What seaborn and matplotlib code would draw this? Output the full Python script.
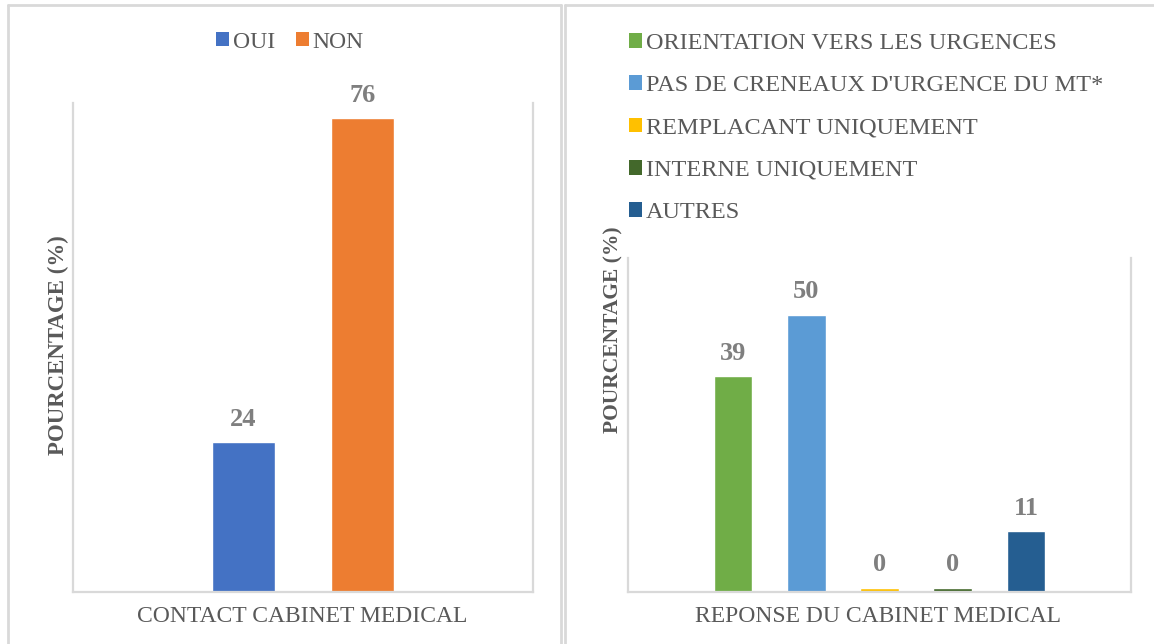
import matplotlib
matplotlib.use("Agg")
import matplotlib.pyplot as plt
import seaborn as sns
from matplotlib.patches import Patch
from matplotlib.lines import Line2D

# ---- data ----
left_categories = ["OUI", "NON"]
left_values = [24, 76]
left_labels = ["24", "76"]
left_colors = ["#4472C4", "#ED7D31"]
left_xlabel = "CONTACT CABINET MEDICAL"

right_categories = ["ORIENTATION VERS LES URGENCES",
                    "PAS DE CRENEAUX D'URGENCE DU MT*",
                    "REMPLACANT UNIQUEMENT",
                    "INTERNE UNIQUEMENT",
                    "AUTRES"]
right_values = [39, 50, 0.8, 0.8, 11]
right_labels = ["39", "50", "0", "0", "11"]
right_colors = ["#70AD47", "#5B9BD5", "#FFC000", "#43682B", "#255E91"]
right_xlabel = "REPONSE DU CABINET MEDICAL"

ylabel = "POURCENTAGE (%)"

# ---- style ----
sns.set_theme(style="white")
plt.rcParams["font.family"] = ["Liberation Serif", "DejaVu Serif"]

W, H = 1154, 644
fig = plt.figure(figsize=(W / 100, H / 100), dpi=100)

def fx(px):
    return px / W

def fy(py):
    return 1 - py / H

TXT = "#595959"
LBL = "#7F7F7F"
GRID = "#D9D9D9"

# panel frames
for x in (8, 561, 565):
    fig.add_artist(Line2D([fx(x), fx(x)], [fy(5), fy(700)],
                          transform=fig.transFigure, color=GRID, lw=2))
fig.add_artist(Line2D([fx(8), fx(561)], [fy(5), fy(5)],
                      transform=fig.transFigure, color=GRID, lw=2))
fig.add_artist(Line2D([fx(565), fx(1160)], [fy(5), fy(5)],
                      transform=fig.transFigure, color=GRID, lw=2))

# axes
axL = fig.add_axes([fx(73), fy(592), fx(533) - fx(73), fy(103) - fy(592)])
axR = fig.add_axes([fx(628), fy(592), fx(1131) - fx(628), fy(258) - fy(592)])

sns.barplot(x=left_categories, y=left_values, hue=left_categories,
            palette=left_colors, width=0.53, legend=False, ax=axL,
            saturation=1, order=left_categories, hue_order=left_categories)
sns.barplot(x=right_categories, y=right_values, hue=right_categories,
            palette=right_colors, width=0.53, legend=False, ax=axR,
            saturation=1, order=right_categories, hue_order=right_categories)

axL.set_xlim(-1.433, 2.433)
axL.set_ylim(0, 78.4)
axR.set_xlim(-1.433, 5.433)
axR.set_ylim(0, 60.2)

for ax, labels in ((axL, left_labels), (axR, right_labels)):
    for cont, lab in zip(ax.containers, labels):
        ax.bar_label(cont, labels=[lab], padding=8, fontsize=19,
                     fontweight="bold", color=LBL)
    ax.set_xticks([])
    ax.set_yticks([])
    ax.set_xlabel("")
    ax.set_ylabel("")
    ax.spines["top"].set_visible(False)
    for s in ("left", "right", "bottom"):
        ax.spines[s].set_color(GRID)
        ax.spines[s].set_linewidth(1.6)

# x labels
fig.text(fx(302), fy(617), left_xlabel, ha="center", va="center",
         fontsize=17, color=TXT)
fig.text(fx(878), fy(617), right_xlabel, ha="center", va="center",
         fontsize=17, color=TXT)

# y labels
fig.text(fx(58), fy(345), ylabel, ha="center", va="center", rotation=90,
         fontsize=16.5, fontweight="bold", color=TXT)
fig.text(fx(613), fy(330), ylabel, ha="center", va="center", rotation=90,
         fontsize=15.5, fontweight="bold", color=TXT)

# legends
hL = [Patch(facecolor=c, edgecolor="none") for c in left_colors]
fig.legend(hL, left_categories, loc="center", ncol=2,
           bbox_to_anchor=(fx(290), fy(42)), frameon=False, fontsize=17,
           handlelength=0.55, handleheight=0.55, handletextpad=0.15,
           columnspacing=0.9, labelcolor=TXT, borderpad=0)

hR = [Patch(facecolor=c, edgecolor="none") for c in right_colors]
fig.legend(hR, right_categories, loc="upper left",
           bbox_to_anchor=(fx(629), fy(33)), frameon=False, fontsize=17.5,
           handlelength=0.55, handleheight=0.55, handletextpad=0.15,
           labelspacing=0.875, labelcolor=TXT, borderpad=0, borderaxespad=0)

fig.savefig("out.png", dpi=100)
